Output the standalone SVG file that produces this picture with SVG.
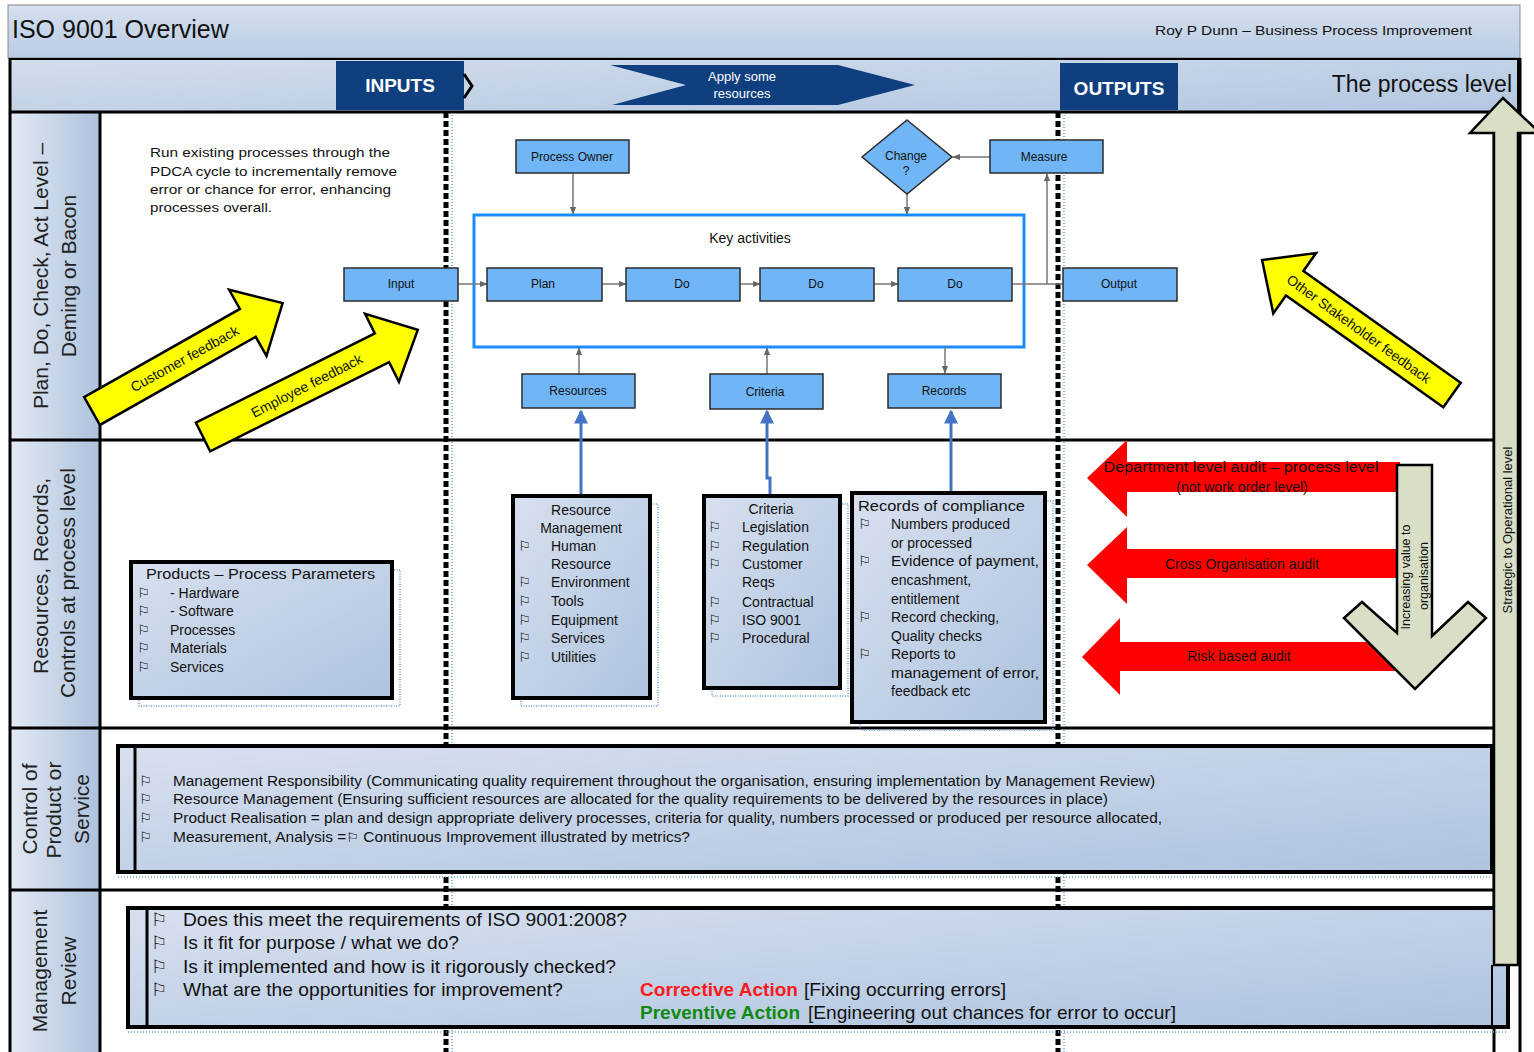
<svg xmlns="http://www.w3.org/2000/svg" width="1534" height="1052" viewBox="0 0 1534 1052">
<defs>
  <linearGradient id="hdr" x1="0" y1="0" x2="0" y2="1"><stop offset="0" stop-color="#d6e0ee"/><stop offset="1" stop-color="#b9cbe3"/></linearGradient>
  <linearGradient id="band" x1="0" y1="0" x2="1" y2="1"><stop offset="0" stop-color="#d3ddec"/><stop offset="1" stop-color="#b3c7e1"/></linearGradient>
  <linearGradient id="lane" x1="0" y1="0" x2="1" y2="0"><stop offset="0" stop-color="#e2e9f3"/><stop offset="1" stop-color="#adc2dd"/></linearGradient>
  <linearGradient id="boxg" x1="0" y1="0" x2="1" y2="1"><stop offset="0" stop-color="#d8e0ef"/><stop offset="1" stop-color="#adc3df"/></linearGradient>
  <marker id="ga" viewBox="0 0 10 10" refX="9" refY="5" markerWidth="8" markerHeight="8" orient="auto" markerUnits="userSpaceOnUse"><path d="M0,1 L10,5 L0,9 z" fill="#666"/></marker>
  <marker id="ba" viewBox="0 0 10 10" refX="9" refY="5" markerWidth="14" markerHeight="14" orient="auto" markerUnits="userSpaceOnUse"><path d="M0,0 L10,5 L0,10 z" fill="#4472c4"/></marker>
  <style>
    text { font-family: "Liberation Sans", Arial, sans-serif; fill:#111; }
    .lbl { font-size:12px; text-anchor:middle; }
    .box { fill:#70b5f5; stroke:#2b2b2b; stroke-width:1.5; }
    .conn { stroke:#777; stroke-width:1.5; fill:none; }
    .bconn { stroke:#4472c4; stroke-width:3; fill:none; }
    .panel { fill:url(#boxg); stroke:#000; stroke-width:4; }
    .shadow { fill:none; stroke:#6d9de0; stroke-width:1.5; stroke-dasharray:1 1.5; }
    .li { font-size:14px; }
    .flag { font-family:"DejaVu Sans", sans-serif; font-size:14px; }
    .lanel { font-size:21px; fill:#222; text-anchor:middle; }
    .yarrow { fill:#ffff00; stroke:#000; stroke-width:2.5; }
    .rarrow { fill:#ff0000; }
    .kh { fill:#d8dfc6; stroke:#000; stroke-width:2.5; }
    .dash { stroke:#000; stroke-width:5; stroke-dasharray:6 3; }
    .dot { stroke:#6d9de0; stroke-width:1.5; stroke-dasharray:1 2; }
    .frame { stroke:#000; stroke-width:3; fill:none; }
    .wt { fill:#fff; font-weight:bold; font-size:19px; text-anchor:middle; }
  </style>
</defs>

<rect x="0" y="0" width="1534" height="1052" fill="#fff"/>

<g id="header">
  <rect x="8" y="5" width="1512" height="53" fill="url(#hdr)" stroke="#888" stroke-width="1"/>
  <text x="12" y="38" font-size="25">ISO 9001 Overview</text>
  <text x="1155" y="35" font-size="13" textLength="317" lengthAdjust="spacingAndGlyphs">Roy P Dunn – Business Process Improvement</text>
</g>

<g id="band2">
  <rect x="10" y="59" width="1508" height="53" fill="url(#band)" stroke="#000" stroke-width="2"/>
</g>

<rect x="100" y="112" width="1394" height="940" fill="#fff"/>
<rect x="10" y="112" width="90" height="940" fill="url(#lane)"/>

<g id="separators">
  <line class="dash" x1="446" y1="112" x2="446" y2="1052"/>
  <line class="dot" x1="452" y1="112" x2="452" y2="1052"/>
  <line class="dash" x1="1058" y1="112" x2="1058" y2="1052"/>
  <line class="dot" x1="1064" y1="112" x2="1064" y2="1052"/>
</g>

<g id="lanes">
  <line class="frame" x1="10" y1="112" x2="1518" y2="112" stroke-width="4"/>
  <line class="frame" x1="10" y1="440" x2="1494" y2="440"/>
  <line class="frame" x1="10" y1="728" x2="1494" y2="728"/>
  <line class="frame" x1="10" y1="890" x2="1494" y2="890"/>
  <line class="frame" x1="10" y1="58" x2="10" y2="1052"/>
  <line class="frame" x1="100" y1="112" x2="100" y2="1052" stroke-width="4"/>
  <line class="frame" x1="1494" y1="112" x2="1494" y2="1052" stroke-width="2"/>
  <line class="frame" x1="1520" y1="58" x2="1520" y2="1052" stroke-width="2"/>
  <text class="lanel" transform="translate(48,276) rotate(-90)">Plan, Do, Check, Act Level –</text>
  <text class="lanel" transform="translate(76,276) rotate(-90)">Deming or Bacon</text>
  <text class="lanel" transform="translate(48,576) rotate(-90)">Resources, Records,</text>
  <text class="lanel" transform="translate(75,583) rotate(-90)">Controls at process level</text>
  <text class="lanel" transform="translate(37,809) rotate(-90)">Control of</text>
  <text class="lanel" transform="translate(61,810) rotate(-90)">Product or</text>
  <text class="lanel" transform="translate(89,809) rotate(-90)">Service</text>
  <text class="lanel" transform="translate(47,971) rotate(-90)">Management</text>
  <text class="lanel" transform="translate(76,971) rotate(-90)">Review</text>
</g>

<g id="inputs">
  <rect x="336" y="61" width="128" height="49" fill="#0f3f7f"/>
  <text class="wt" x="400" y="92">INPUTS</text>
  <polyline points="464,74 472,86 464,98" fill="none" stroke="#000" stroke-width="3"/>
</g>
<g id="apply">
  <polygon points="610,65 838,65 915,85 838,105 612,105 686,85" fill="#0f3f7f"/>
  <text x="742" y="81" font-size="13" text-anchor="middle" style="fill:#fff">Apply some</text>
  <text x="742" y="98" font-size="13" text-anchor="middle" style="fill:#fff">resources</text>
</g>
<g id="outputs">
  <rect x="1060" y="63" width="118" height="47" fill="#0f3f7f"/>
  <text class="wt" x="1119" y="95">OUTPUTS</text>
</g>
<text x="1512" y="92" font-size="23" text-anchor="end" fill="#222">The process level</text>

<g id="pdca-note">
  <text x="150" y="157" font-size="13" textLength="240" lengthAdjust="spacingAndGlyphs">Run existing processes through the</text>
  <text x="150" y="176" font-size="13" textLength="247" lengthAdjust="spacingAndGlyphs">PDCA cycle to incrementally remove</text>
  <text x="150" y="194" font-size="13" textLength="241" lengthAdjust="spacingAndGlyphs">error or chance for error, enhancing</text>
  <text x="150" y="212" font-size="13" textLength="122" lengthAdjust="spacingAndGlyphs">processes overall.</text>
</g>

<g id="key-activities">
  <rect x="474" y="215" width="550" height="132" fill="#fff" stroke="#1a8cff" stroke-width="3"/>
  <text x="750" y="243" font-size="14" text-anchor="middle">Key activities</text>
</g>

<g id="connectors">
  <line class="conn" x1="573" y1="173" x2="573" y2="214" marker-end="url(#ga)"/>
  <line class="conn" x1="907" y1="194" x2="907" y2="214" marker-end="url(#ga)"/>
  <line class="conn" x1="990" y1="157" x2="953" y2="157" marker-end="url(#ga)"/>
  <line class="conn" x1="458" y1="284" x2="487" y2="284" marker-end="url(#ga)"/>
  <line class="conn" x1="602" y1="284" x2="626" y2="284" marker-end="url(#ga)"/>
  <line class="conn" x1="740" y1="284" x2="760" y2="284" marker-end="url(#ga)"/>
  <line class="conn" x1="874" y1="284" x2="898" y2="284" marker-end="url(#ga)"/>
  <line class="conn" x1="1012" y1="284" x2="1063" y2="284"/>
  <line class="conn" x1="1047" y1="284" x2="1047" y2="174" marker-end="url(#ga)"/>
  <line class="conn" x1="579" y1="374" x2="579" y2="348" marker-end="url(#ga)"/>
  <line class="conn" x1="767" y1="374" x2="767" y2="348" marker-end="url(#ga)"/>
  <line class="conn" x1="945" y1="347" x2="945" y2="373" marker-end="url(#ga)"/>
  <line class="bconn" x1="581" y1="496" x2="581" y2="411" marker-end="url(#ba)"/>
  <path class="bconn" d="M770,496 V478 H767 V411" marker-end="url(#ba)"/>
  <line class="bconn" x1="951" y1="493" x2="951" y2="411" marker-end="url(#ba)"/>
</g>

<g id="process-owner"><rect class="box" x="516" y="140" width="113" height="33"/><text class="lbl" x="572" y="161">Process Owner</text></g>
<g id="change"><polygon class="box" points="907,120 952,157 907,194 862,157"/><text class="lbl" x="906" y="160">Change</text><text class="lbl" x="906" y="175">?</text></g>
<g id="measure"><rect class="box" x="990" y="140" width="113" height="33"/><text class="lbl" x="1044" y="161">Measure</text></g>
<g id="input"><rect class="box" x="344" y="268" width="114" height="33"/><text class="lbl" x="401" y="288">Input</text></g>
<g id="plan"><rect class="box" x="487" y="268" width="115" height="33"/><text class="lbl" x="543" y="288">Plan</text></g>
<g id="do1"><rect class="box" x="626" y="268" width="114" height="33"/><text class="lbl" x="682" y="288">Do</text></g>
<g id="do2"><rect class="box" x="760" y="268" width="114" height="33"/><text class="lbl" x="816" y="288">Do</text></g>
<g id="do3"><rect class="box" x="898" y="268" width="114" height="33"/><text class="lbl" x="955" y="288">Do</text></g>
<g id="output"><rect class="box" x="1063" y="268" width="114" height="33"/><text class="lbl" x="1119" y="288">Output</text></g>
<g id="resources"><rect class="box" x="522" y="374" width="113" height="34"/><text class="lbl" x="578" y="395">Resources</text></g>
<g id="criteria"><rect class="box" x="710" y="374" width="113" height="35"/><text class="lbl" x="765" y="396">Criteria</text></g>
<g id="records"><rect class="box" x="888" y="374" width="113" height="34"/><text class="lbl" x="944" y="395">Records</text></g>

<g id="customer-feedback">
  <polygon class="yarrow" transform="translate(92,411) rotate(-29.5)" points="0,-16 179,-16 179,-38 219,0 179,38 179,16 0,16"/>
  <text transform="translate(187,363) rotate(-29)" font-size="14" text-anchor="middle">Customer feedback</text>
</g>
<g id="employee-feedback">
  <polygon class="yarrow" transform="translate(203,437) rotate(-26.5)" points="0,-16 200,-16 200,-38 240,0 200,38 200,16 0,16"/>
  <text transform="translate(309,390) rotate(-27)" font-size="14" text-anchor="middle">Employee feedback</text>
</g>
<g id="stakeholder-feedback">
  <polygon class="yarrow" transform="translate(1452,395) rotate(-144.6)" points="0,-15 193,-15 193,-37 233,0 193,37 193,15 0,15"/>
  <text transform="translate(1356,333) rotate(36)" font-size="14" text-anchor="middle">Other Stakeholder feedback</text>
</g>

<g id="products">
  <rect class="shadow" x="139" y="570" width="261" height="136"/>
  <rect class="panel" x="131" y="562" width="261" height="136"/>
  <text x="146" y="579" class="li" textLength="229" lengthAdjust="spacingAndGlyphs">Products – Process Parameters</text>
  <text class="flag" x="137" y="598">⚐</text><text class="li" x="170" y="598">-  Hardware</text>
  <text class="flag" x="137" y="616">⚐</text><text class="li" x="170" y="616">-  Software</text>
  <text class="flag" x="137" y="635">⚐</text><text class="li" x="170" y="635">Processes</text>
  <text class="flag" x="137" y="653">⚐</text><text class="li" x="170" y="653">Materials</text>
  <text class="flag" x="137" y="672">⚐</text><text class="li" x="170" y="672">Services</text>
</g>
<g id="resource-management">
  <rect class="shadow" x="521" y="504" width="137" height="202"/>
  <rect class="panel" x="513" y="496" width="137" height="202"/>
  <text class="li" x="581" y="515" text-anchor="middle">Resource</text>
  <text class="li" x="581" y="533" text-anchor="middle">Management</text>
  <text class="flag" x="518" y="551">⚐</text><text class="li" x="551" y="551">Human</text>
  <text class="li" x="551" y="569">Resource</text>
  <text class="flag" x="518" y="587">⚐</text><text class="li" x="551" y="587">Environment</text>
  <text class="flag" x="518" y="606">⚐</text><text class="li" x="551" y="606">Tools</text>
  <text class="flag" x="518" y="625">⚐</text><text class="li" x="551" y="625">Equipment</text>
  <text class="flag" x="518" y="643">⚐</text><text class="li" x="551" y="643">Services</text>
  <text class="flag" x="518" y="662">⚐</text><text class="li" x="551" y="662">Utilities</text>
</g>
<g id="criteria-list">
  <rect class="shadow" x="712" y="504" width="136" height="192"/>
  <rect class="panel" x="704" y="496" width="136" height="192"/>
  <text class="li" x="771" y="514" text-anchor="middle">Criteria</text>
  <text class="flag" x="708" y="532">⚐</text><text class="li" x="742" y="532">Legislation</text>
  <text class="flag" x="708" y="551">⚐</text><text class="li" x="742" y="551">Regulation</text>
  <text class="flag" x="708" y="569">⚐</text><text class="li" x="742" y="569">Customer</text>
  <text class="li" x="742" y="587">Reqs</text>
  <text class="flag" x="708" y="607">⚐</text><text class="li" x="742" y="607">Contractual</text>
  <text class="flag" x="708" y="625">⚐</text><text class="li" x="742" y="625">ISO 9001</text>
  <text class="flag" x="708" y="643">⚐</text><text class="li" x="742" y="643">Procedural</text>
</g>
<g id="records-compliance">
  <rect class="shadow" x="860" y="501" width="193" height="229"/>
  <rect class="panel" x="852" y="493" width="193" height="229"/>
  <text class="li" x="858" y="511" textLength="167" lengthAdjust="spacingAndGlyphs">Records of compliance</text>
  <text class="flag" x="858" y="529">⚐</text><text class="li" x="891" y="529">Numbers produced</text>
  <text class="li" x="891" y="548">or processed</text>
  <text class="flag" x="858" y="566">⚐</text><text class="li" x="891" y="566" textLength="148" lengthAdjust="spacingAndGlyphs">Evidence of payment,</text>
  <text class="li" x="891" y="585">encashment,</text>
  <text class="li" x="891" y="604">entitlement</text>
  <text class="flag" x="858" y="622">⚐</text><text class="li" x="891" y="622">Record checking,</text>
  <text class="li" x="891" y="641">Quality checks</text>
  <text class="flag" x="858" y="659">⚐</text><text class="li" x="891" y="659">Reports to</text>
  <text class="li" x="891" y="678" textLength="148" lengthAdjust="spacingAndGlyphs">management of error,</text>
  <text class="li" x="891" y="696">feedback etc</text>
</g>

<g id="dept-audit">
  <polygon class="rarrow" points="1087,478 1127,440 1127,462 1400,462 1400,492 1127,492 1127,517"/>
  <text x="1241" y="472" font-size="14" text-anchor="middle" textLength="275" lengthAdjust="spacingAndGlyphs">Department level audit – process level</text>
  <text x="1242" y="492" font-size="14" text-anchor="middle">(not work order level)</text>
</g>
<g id="cross-audit">
  <polygon class="rarrow" points="1087,565 1127,527 1127,549 1400,549 1400,578 1127,578 1127,604"/>
  <text x="1242" y="569" font-size="14" text-anchor="middle">Cross Organisation audit</text>
</g>
<g id="risk-audit">
  <polygon class="rarrow" points="1082,657 1120,618 1120,642 1400,642 1400,671 1120,671 1120,695"/>
  <text x="1239" y="661" font-size="14" text-anchor="middle">Risk based audit</text>
</g>
<g id="increasing-value">
  <polygon class="kh" points="1397,465 1432,465 1432,636 1468,602 1486,618 1415,689 1344,618 1362,602 1397,633"/>
  <text transform="translate(1410,577) rotate(-90)" font-size="12.5" text-anchor="middle">Increasing value to</text>
  <text transform="translate(1428,576) rotate(-90)" font-size="12.5" text-anchor="middle">organisation</text>
</g>

<g id="control-box">
  <line class="dot" x1="118" y1="877" x2="1492" y2="877"/>
  <rect class="panel" x="118" y="746" width="1374" height="126"/>
  <line x1="135" y1="746" x2="135" y2="872" stroke="#000" stroke-width="3"/>
  <text class="flag" x="139" y="786" font-size="13">⚐</text>
  <text x="173" y="786" font-size="14" textLength="982" lengthAdjust="spacingAndGlyphs">Management Responsibility (Communicating quality requirement throughout the organisation, ensuring implementation by Management Review)</text>
  <text class="flag" x="139" y="804" font-size="13">⚐</text>
  <text x="173" y="804" font-size="14" textLength="935" lengthAdjust="spacingAndGlyphs">Resource Management (Ensuring sufficient resources are allocated for the quality requirements to be delivered by the resources in place)</text>
  <text class="flag" x="139" y="823" font-size="13">⚐</text>
  <text x="173" y="823" font-size="14" textLength="989" lengthAdjust="spacingAndGlyphs">Product Realisation = plan and design appropriate delivery processes, criteria for quality, numbers processed or produced per resource allocated,</text>
  <text class="flag" x="139" y="842" font-size="13">⚐</text>
  <text x="173" y="842" font-size="14" textLength="517" lengthAdjust="spacingAndGlyphs">Measurement, Analysis =<tspan font-family="DejaVu Sans, sans-serif" font-size="13">⚐</tspan> Continuous Improvement illustrated by metrics?</text>
</g>

<g id="review-box">
  <line class="dot" x1="128" y1="1032" x2="1508" y2="1032"/>
  <rect class="panel" x="128" y="908" width="1380" height="119"/>
  <line x1="147" y1="908" x2="147" y2="1027" stroke="#000" stroke-width="3"/>
  <text x="151" y="926" font-family="DejaVu Sans, sans-serif" font-size="18">⚐</text>
  <text x="183" y="926" font-size="19" textLength="444" lengthAdjust="spacingAndGlyphs">Does this meet the requirements of ISO 9001:2008?</text>
  <text x="151" y="949" font-family="DejaVu Sans, sans-serif" font-size="18">⚐</text>
  <text x="183" y="949" font-size="19" textLength="276" lengthAdjust="spacingAndGlyphs">Is it fit for purpose / what we do?</text>
  <text x="151" y="973" font-family="DejaVu Sans, sans-serif" font-size="18">⚐</text>
  <text x="183" y="973" font-size="19" textLength="433" lengthAdjust="spacingAndGlyphs">Is it implemented and how is it rigorously checked?</text>
  <text x="151" y="996" font-family="DejaVu Sans, sans-serif" font-size="18">⚐</text>
  <text x="183" y="996" font-size="19" textLength="380" lengthAdjust="spacingAndGlyphs">What are the opportunities for improvement?</text>
  <text x="640" y="996" font-size="19" font-weight="bold" style="fill:#ff1a1a" textLength="158" lengthAdjust="spacingAndGlyphs">Corrective Action</text>
  <text x="804" y="996" font-size="19" textLength="202" lengthAdjust="spacingAndGlyphs">[Fixing occurring errors]</text>
  <text x="640" y="1019" font-size="19" font-weight="bold" style="fill:#118811" textLength="160" lengthAdjust="spacingAndGlyphs">Preventive Action</text>
  <text x="808" y="1019" font-size="19" textLength="368" lengthAdjust="spacingAndGlyphs">[Engineering out chances for error to occur]</text>
</g>

<g id="strategic">
  <polygon class="kh" points="1494,965 1494,133 1470,133 1503,98 1540,133 1518,133 1518,965"/>
  <line x1="1492" y1="965" x2="1492" y2="1027" stroke="#000" stroke-width="2"/>
  <text transform="translate(1512,530) rotate(-90)" font-size="13" text-anchor="middle">Strategic to Operational level</text>
</g>
</svg>
